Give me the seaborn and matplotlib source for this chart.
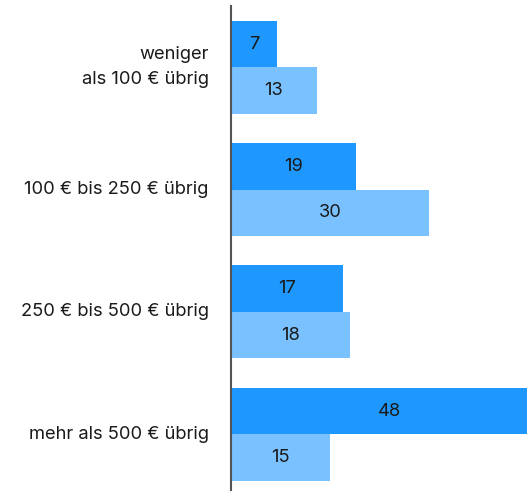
import matplotlib
matplotlib.use("Agg")
import matplotlib.pyplot as plt
import seaborn as sns
import pandas as pd

categories = ["weniger\nals 100 € übrig", "100 € bis 250 € übrig",
              "250 € bis 500 € übrig", "mehr als 500 € übrig"]
series_names = ["Reihe 1", "Reihe 2"]
values_a = [7, 19, 17, 48]
values_b = [13, 30, 18, 15]

df = pd.DataFrame({
    "Kategorie": categories * 2,
    "Reihe": [series_names[0]] * 4 + [series_names[1]] * 4,
    "Wert": values_a + values_b,
})

sns.set_theme(style="white")
plt.rcParams["font.family"] = ["Inter", "DejaVu Sans"]

W, H = 527, 491
FS = 13.2
fig = plt.figure(figsize=(W / 100, H / 100), dpi=100)
ax = fig.add_axes([231 / W, 0, (W - 231) / W, 485 / H])

sns.barplot(data=df, y="Kategorie", x="Wert", hue="Reihe", orient="h",
            palette=["#1E98FF", "#7AC1FF"], width=0.76, saturation=1,
            linewidth=0, ax=ax, legend=False)

for c in ax.containers:
    for bar in c:
        w = bar.get_width()
        ax.text(w / 2, bar.get_y() + bar.get_height() / 2, f"{w:.0f}",
                ha="center", va="center", fontsize=FS, color="#1a1a1a")

ax.set_xlim(0, 296 / 6.6)
ax.set_ylim(3.464, -0.501)
ax.set_xlabel("")
ax.set_ylabel("")
ax.set_xticks([])
ax.tick_params(axis="y", length=0, pad=16, labelsize=FS, labelcolor="#1a1a1a")
for lab in ax.get_yticklabels():
    lab.set_horizontalalignment("right")
    lab.set_verticalalignment("center")
    lab.set_linespacing(1.6)
for s in ["top", "right", "bottom"]:
    ax.spines[s].set_visible(False)
ax.spines["left"].set_color("#555555")
ax.spines["left"].set_linewidth(1.5)

fig.savefig("out.png", dpi=100)
